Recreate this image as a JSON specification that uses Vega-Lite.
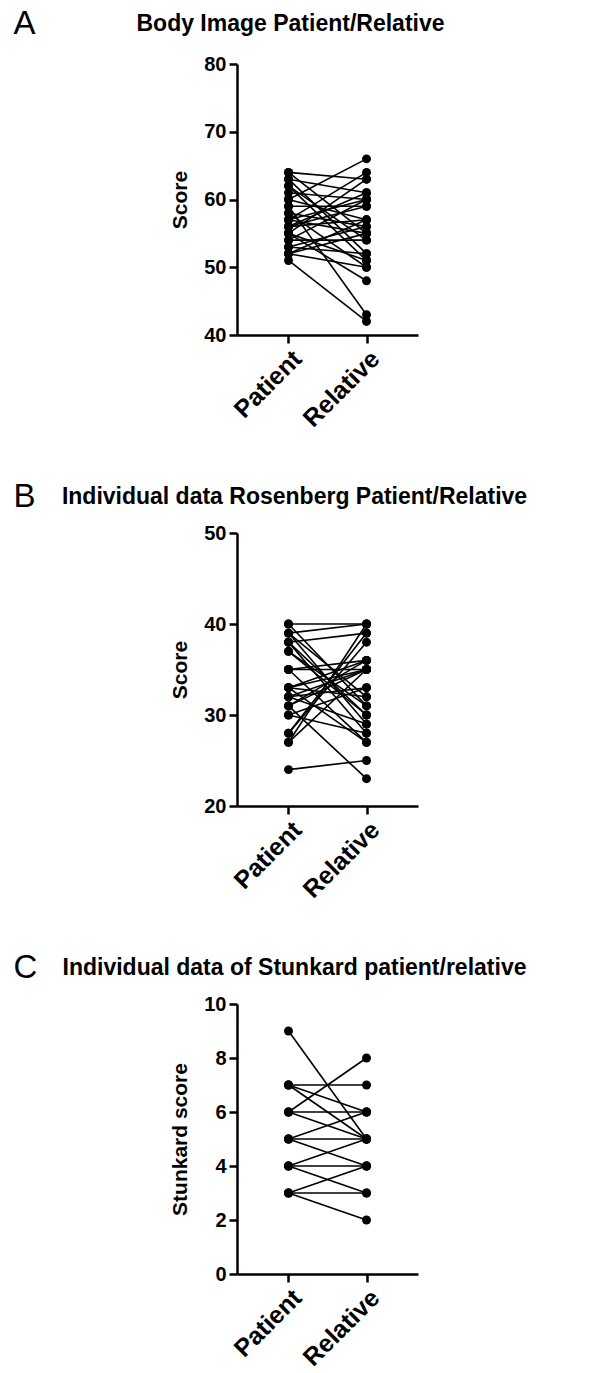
{
  "$schema": "https://vega.github.io/schema/vega-lite/v6.json",
  "padding": {"left": 13, "top": 7, "right": 5, "bottom": 0},
  "background": "white",
  "spacing": 198,
  "bounds": "flush",
  "config": {
    "font": "Liberation Sans",
    "view": {"stroke": null},
    "axis": {
      "grid": false,
      "domainColor": "black",
      "domainWidth": 2.5,
      "tickColor": "black",
      "tickWidth": 2.5,
      "tickSize": 8,
      "labelColor": "black",
      "labelFontWeight": "bold",
      "labelFont": "Liberation Sans",
      "titleColor": "black",
      "titleFontWeight": "bold",
      "titleFont": "Liberation Sans"
    },
    "title": {"font": "Liberation Sans", "fontWeight": "bold", "fontSize": 23, "color": "black"}
  },
  "datasets": {
    "bodyimage": [
      {"id": 1, "group": "Patient", "score": 64}, {"id": 1, "group": "Relative", "score": 63},
      {"id": 2, "group": "Patient", "score": 64}, {"id": 2, "group": "Relative", "score": 55},
      {"id": 3, "group": "Patient", "score": 63}, {"id": 3, "group": "Relative", "score": 52},
      {"id": 4, "group": "Patient", "score": 63}, {"id": 4, "group": "Relative", "score": 61},
      {"id": 5, "group": "Patient", "score": 62}, {"id": 5, "group": "Relative", "score": 54},
      {"id": 6, "group": "Patient", "score": 62}, {"id": 6, "group": "Relative", "score": 51},
      {"id": 7, "group": "Patient", "score": 61}, {"id": 7, "group": "Relative", "score": 60},
      {"id": 8, "group": "Patient", "score": 60}, {"id": 8, "group": "Relative", "score": 57},
      {"id": 9, "group": "Patient", "score": 60}, {"id": 9, "group": "Relative", "score": 66},
      {"id": 10, "group": "Patient", "score": 58}, {"id": 10, "group": "Relative", "score": 50},
      {"id": 11, "group": "Patient", "score": 59}, {"id": 11, "group": "Relative", "score": 59},
      {"id": 12, "group": "Patient", "score": 59}, {"id": 12, "group": "Relative", "score": 43},
      {"id": 13, "group": "Patient", "score": 58}, {"id": 13, "group": "Relative", "score": 56},
      {"id": 14, "group": "Patient", "score": 57}, {"id": 14, "group": "Relative", "score": 64},
      {"id": 15, "group": "Patient", "score": 57}, {"id": 15, "group": "Relative", "score": 55},
      {"id": 16, "group": "Patient", "score": 57}, {"id": 16, "group": "Relative", "score": 60},
      {"id": 17, "group": "Patient", "score": 56}, {"id": 17, "group": "Relative", "score": 61},
      {"id": 18, "group": "Patient", "score": 55}, {"id": 18, "group": "Relative", "score": 48},
      {"id": 19, "group": "Patient", "score": 56}, {"id": 19, "group": "Relative", "score": 57},
      {"id": 20, "group": "Patient", "score": 55}, {"id": 20, "group": "Relative", "score": 63},
      {"id": 21, "group": "Patient", "score": 56}, {"id": 21, "group": "Relative", "score": 59},
      {"id": 22, "group": "Patient", "score": 55}, {"id": 22, "group": "Relative", "score": 51},
      {"id": 23, "group": "Patient", "score": 54}, {"id": 23, "group": "Relative", "score": 60},
      {"id": 24, "group": "Patient", "score": 54}, {"id": 24, "group": "Relative", "score": 54},
      {"id": 25, "group": "Patient", "score": 53}, {"id": 25, "group": "Relative", "score": 56},
      {"id": 26, "group": "Patient", "score": 53}, {"id": 26, "group": "Relative", "score": 52},
      {"id": 27, "group": "Patient", "score": 52}, {"id": 27, "group": "Relative", "score": 57},
      {"id": 28, "group": "Patient", "score": 52}, {"id": 28, "group": "Relative", "score": 55},
      {"id": 29, "group": "Patient", "score": 51}, {"id": 29, "group": "Relative", "score": 42},
      {"id": 30, "group": "Patient", "score": 52}, {"id": 30, "group": "Relative", "score": 50}
    ],
    "rosenberg": [
      {"id": 1, "group": "Patient", "score": 40}, {"id": 1, "group": "Relative", "score": 40},
      {"id": 2, "group": "Patient", "score": 40}, {"id": 2, "group": "Relative", "score": 31},
      {"id": 3, "group": "Patient", "score": 39}, {"id": 3, "group": "Relative", "score": 40},
      {"id": 4, "group": "Patient", "score": 39}, {"id": 4, "group": "Relative", "score": 29},
      {"id": 5, "group": "Patient", "score": 38}, {"id": 5, "group": "Relative", "score": 39},
      {"id": 6, "group": "Patient", "score": 38}, {"id": 6, "group": "Relative", "score": 28},
      {"id": 7, "group": "Patient", "score": 37}, {"id": 7, "group": "Relative", "score": 30},
      {"id": 8, "group": "Patient", "score": 35}, {"id": 8, "group": "Relative", "score": 35},
      {"id": 9, "group": "Patient", "score": 35}, {"id": 9, "group": "Relative", "score": 27},
      {"id": 10, "group": "Patient", "score": 35}, {"id": 10, "group": "Relative", "score": 36},
      {"id": 11, "group": "Patient", "score": 33}, {"id": 11, "group": "Relative", "score": 36},
      {"id": 12, "group": "Patient", "score": 33}, {"id": 12, "group": "Relative", "score": 32},
      {"id": 13, "group": "Patient", "score": 33}, {"id": 13, "group": "Relative", "score": 35},
      {"id": 14, "group": "Patient", "score": 32}, {"id": 14, "group": "Relative", "score": 33},
      {"id": 15, "group": "Patient", "score": 32}, {"id": 15, "group": "Relative", "score": 29},
      {"id": 16, "group": "Patient", "score": 32}, {"id": 16, "group": "Relative", "score": 35},
      {"id": 17, "group": "Patient", "score": 31}, {"id": 17, "group": "Relative", "score": 23},
      {"id": 18, "group": "Patient", "score": 31}, {"id": 18, "group": "Relative", "score": 35},
      {"id": 19, "group": "Patient", "score": 31}, {"id": 19, "group": "Relative", "score": 36},
      {"id": 20, "group": "Patient", "score": 30}, {"id": 20, "group": "Relative", "score": 33},
      {"id": 21, "group": "Patient", "score": 30}, {"id": 21, "group": "Relative", "score": 28},
      {"id": 22, "group": "Patient", "score": 28}, {"id": 22, "group": "Relative", "score": 39},
      {"id": 23, "group": "Patient", "score": 28}, {"id": 23, "group": "Relative", "score": 38},
      {"id": 24, "group": "Patient", "score": 27}, {"id": 24, "group": "Relative", "score": 40},
      {"id": 25, "group": "Patient", "score": 27}, {"id": 25, "group": "Relative", "score": 35},
      {"id": 26, "group": "Patient", "score": 24}, {"id": 26, "group": "Relative", "score": 25},
      {"id": 27, "group": "Patient", "score": 37}, {"id": 27, "group": "Relative", "score": 31},
      {"id": 28, "group": "Patient", "score": 39}, {"id": 28, "group": "Relative", "score": 32},
      {"id": 29, "group": "Patient", "score": 38}, {"id": 29, "group": "Relative", "score": 30},
      {"id": 30, "group": "Patient", "score": 33}, {"id": 30, "group": "Relative", "score": 27}
    ],
    "stunkard": [
      {"id": 1, "group": "Patient", "score": 9}, {"id": 1, "group": "Relative", "score": 5},
      {"id": 2, "group": "Patient", "score": 7}, {"id": 2, "group": "Relative", "score": 7},
      {"id": 3, "group": "Patient", "score": 7}, {"id": 3, "group": "Relative", "score": 6},
      {"id": 4, "group": "Patient", "score": 7}, {"id": 4, "group": "Relative", "score": 5},
      {"id": 5, "group": "Patient", "score": 6}, {"id": 5, "group": "Relative", "score": 8},
      {"id": 6, "group": "Patient", "score": 6}, {"id": 6, "group": "Relative", "score": 6},
      {"id": 7, "group": "Patient", "score": 6}, {"id": 7, "group": "Relative", "score": 5},
      {"id": 8, "group": "Patient", "score": 5}, {"id": 8, "group": "Relative", "score": 6},
      {"id": 9, "group": "Patient", "score": 5}, {"id": 9, "group": "Relative", "score": 5},
      {"id": 10, "group": "Patient", "score": 5}, {"id": 10, "group": "Relative", "score": 4},
      {"id": 11, "group": "Patient", "score": 4}, {"id": 11, "group": "Relative", "score": 5},
      {"id": 12, "group": "Patient", "score": 4}, {"id": 12, "group": "Relative", "score": 4},
      {"id": 13, "group": "Patient", "score": 4}, {"id": 13, "group": "Relative", "score": 3},
      {"id": 14, "group": "Patient", "score": 3}, {"id": 14, "group": "Relative", "score": 4},
      {"id": 15, "group": "Patient", "score": 3}, {"id": 15, "group": "Relative", "score": 3},
      {"id": 16, "group": "Patient", "score": 3}, {"id": 16, "group": "Relative", "score": 2}
    ]
  },
  "vconcat": [
    {
      "title": {"text": "Body Image Patient/Relative", "anchor": "middle", "frame": "group", "dx": -37, "baseline": "alphabetic", "offset": -47},
      "width": 181,
      "height": 271,
      "data": {"name": "bodyimage"},
      "resolve": {"axis": {"x": "independent"}},
      "layer": [
        {
          "mark": {"type": "line", "color": "black", "strokeWidth": 1.6},
          "encoding": {
            "x": {"field": "group", "type": "nominal", "scale": {"type": "point", "padding": 0.66}, "axis": {"title": null, "labelAngle": -45, "labelFontSize": 25, "labelPadding": 3}},
            "y": {"field": "score", "type": "quantitative", "scale": {"domain": [40, 80], "nice": false, "zero": false}, "axis": {"title": "Score", "values": [40, 50, 60, 70, 80], "labelFontSize": 20, "labelPadding": 3, "titleFontSize": 21, "titlePadding": 13}},
            "detail": {"field": "id", "type": "nominal"}
          }
        },
        {
          "mark": {"type": "circle", "color": "black", "size": 80, "opacity": 1},
          "encoding": {
            "x": {"field": "group", "type": "nominal", "scale": {"type": "point", "padding": 0.66}, "axis": {"orient": "top", "title": "A", "labels": false, "ticks": false, "domain": false, "titleX": -224, "titleY": -31, "titleAngle": 0, "titleAlign": "left", "titleBaseline": "alphabetic", "titleFontSize": 33, "titleFontWeight": "normal"}},
            "y": {"field": "score", "type": "quantitative"}
          }
        }
      ]
    },
    {
      "title": {"text": "Individual data Rosenberg Patient/Relative", "anchor": "middle", "frame": "group", "dx": -33, "baseline": "alphabetic", "offset": -47},
      "width": 181,
      "height": 273,
      "data": {"name": "rosenberg"},
      "resolve": {"axis": {"x": "independent"}},
      "layer": [
        {
          "mark": {"type": "line", "color": "black", "strokeWidth": 1.6},
          "encoding": {
            "x": {"field": "group", "type": "nominal", "scale": {"type": "point", "padding": 0.66}, "axis": {"title": null, "labelAngle": -45, "labelFontSize": 25, "labelPadding": 3}},
            "y": {"field": "score", "type": "quantitative", "scale": {"domain": [20, 50], "nice": false, "zero": false}, "axis": {"title": "Score", "values": [20, 30, 40, 50], "labelFontSize": 20, "labelPadding": 3, "titleFontSize": 21, "titlePadding": 13}},
            "detail": {"field": "id", "type": "nominal"}
          }
        },
        {
          "mark": {"type": "circle", "color": "black", "size": 80, "opacity": 1},
          "encoding": {
            "x": {"field": "group", "type": "nominal", "scale": {"type": "point", "padding": 0.66}, "axis": {"orient": "top", "title": "B", "labels": false, "ticks": false, "domain": false, "titleX": -224, "titleY": -27, "titleAngle": 0, "titleAlign": "left", "titleBaseline": "alphabetic", "titleFontSize": 33, "titleFontWeight": "normal"}},
            "y": {"field": "score", "type": "quantitative"}
          }
        }
      ]
    },
    {
      "title": {"text": "Individual data of Stunkard patient/relative", "anchor": "middle", "frame": "group", "dx": -33, "baseline": "alphabetic", "offset": -47},
      "width": 181,
      "height": 270,
      "data": {"name": "stunkard"},
      "resolve": {"axis": {"x": "independent"}},
      "layer": [
        {
          "mark": {"type": "line", "color": "black", "strokeWidth": 1.6},
          "encoding": {
            "x": {"field": "group", "type": "nominal", "scale": {"type": "point", "padding": 0.66}, "axis": {"title": null, "labelAngle": -45, "labelFontSize": 25, "labelPadding": 3}},
            "y": {"field": "score", "type": "quantitative", "scale": {"domain": [0, 10], "nice": false}, "axis": {"title": "Stunkard score", "values": [0, 2, 4, 6, 8, 10], "labelFontSize": 20, "labelPadding": 3, "titleFontSize": 21, "titlePadding": 13}},
            "detail": {"field": "id", "type": "nominal"}
          }
        },
        {
          "mark": {"type": "circle", "color": "black", "size": 80, "opacity": 1},
          "encoding": {
            "x": {"field": "group", "type": "nominal", "scale": {"type": "point", "padding": 0.66}, "axis": {"orient": "top", "title": "C", "labels": false, "ticks": false, "domain": false, "titleX": -224, "titleY": -27, "titleAngle": 0, "titleAlign": "left", "titleBaseline": "alphabetic", "titleFontSize": 33, "titleFontWeight": "normal"}},
            "y": {"field": "score", "type": "quantitative"}
          }
        }
      ]
    }
  ]
}
